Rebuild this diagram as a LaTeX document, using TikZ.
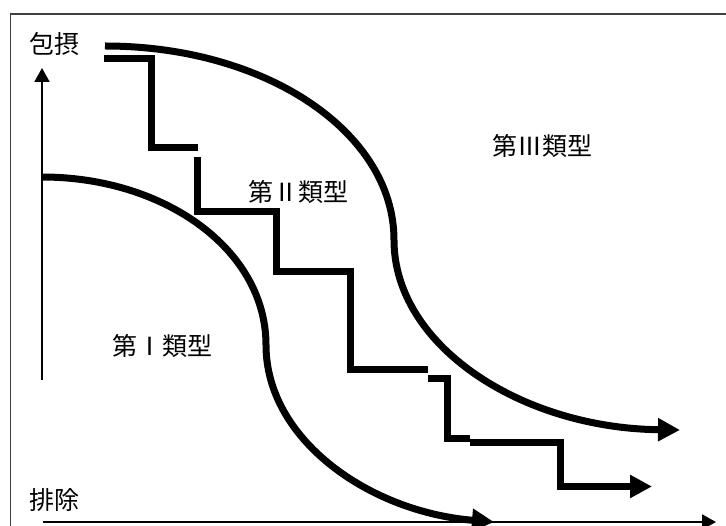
\documentclass[tikz,border=0pt]{standalone}
\usepackage{fontspec}
\newfontfamily\cjk{Noto Sans CJK JP}
\usetikzlibrary{arrows.meta}
\begin{document}
\begin{tikzpicture}[x=1pt,y=-1pt,
  lbl/.style={font=\cjk\fontsize{25}{30}\selectfont, inner sep=0pt, anchor=center},
  thick line/.style={line width=7pt, line join=miter, line cap=butt},
  bighead/.style={-{Triangle[length=22pt,width=22pt]}},
  axis/.style={line width=2pt, -{Triangle[length=14pt,width=15pt]}},
  frame/.style={draw=black!75, line width=1.5pt}]
\useasboundingbox (0,0) rectangle (726,526);
\clip (0,0) rectangle (726,526);
\fill[white] (0,0) rectangle (726,526);
% frame
\draw[frame] (10.5,530) -- (10.5,14) -- (730,14);
% labels
\node[lbl] (inc) at (54,44) {包摂};
\node[lbl] (exc) at (54,500) {排除};
\node[lbl] (t3) at (542,146) {第Ⅲ類型};
\node[lbl] (t2) at (298,192) {第Ⅱ類型};
\node[lbl] (t1) at (162,346) {第Ⅰ類型};
% axes
\coordinate (vb) at (42,380);
\coordinate (vt) at (42,68);
\coordinate (hb) at (43,522);
\coordinate (ht) at (716,522);
\draw[axis] (vb) -- (vt);
\draw[axis] (hb) -- (ht);
% type III boundary
\coordinate (c3s) at (105,46);
\coordinate (c3m) at (394,240);
\coordinate (c3e) at (680,430);
\draw[thick line, bighead] (c3s) .. controls (267,46) and (394,133) .. (c3m)
  .. controls (394,345) and (520,428) .. (c3e);
% type I boundary
\coordinate (c1s) at (42,177);
\coordinate (c1m) at (266,345);
\coordinate (c1e) at (494,522);
\draw[thick line, bighead] (c1s) .. controls (165,177) and (266,250) .. (c1m)
  .. controls (266,440) and (370,512) .. (c1e);
% type II steps
\draw[thick line] (104,59) -- (151.5,59) -- (151.5,148) -- (198,148);
\draw[thick line] (197.5,157) -- (197.5,211.5) -- (276.5,211.5) -- (276.5,271.5) -- (350.5,271.5) -- (350.5,369.5) -- (428,369.5);
\draw[thick line] (428,379) -- (447,379) -- (447,438.5) -- (470,438.5);
\draw[thick line, bighead] (470,443) -- (560.5,443) -- (560.5,486.5) -- (652,486.5);
\end{tikzpicture}
\end{document}
